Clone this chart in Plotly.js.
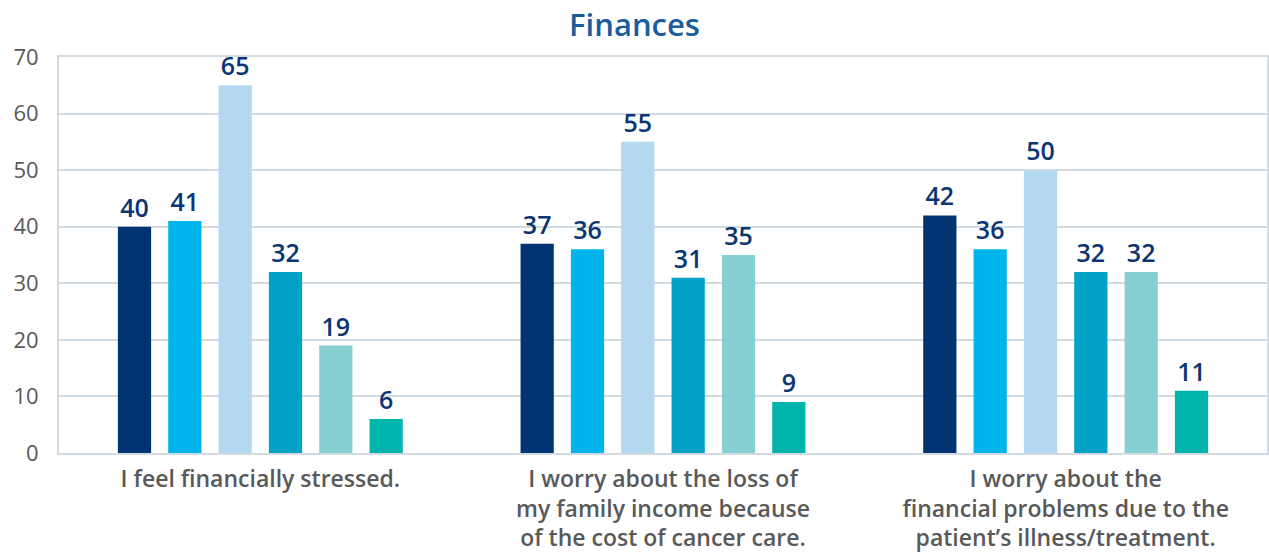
<!DOCTYPE html>
<html><head><meta charset="utf-8">
<script src="https://cdn.plot.ly/plotly-3.0.1.min.js"></script>
<style>html,body{margin:0;padding:0;background:#fff;}#chart{width:1269px;height:553px;}</style>
</head><body><div id="chart"></div>
<script>
const categories = ["I feel financially stressed.", "I worry about the loss of<br>my family income because<br>of the cost of cancer care.", "I worry about the<br>financial problems due to the<br>patient’s illness/treatment."];
const series1 = [40, 37, 42];
const series2 = [41, 36, 36];
const series3 = [65, 55, 50];
const series4 = [32, 31, 32];
const series5 = [19, 35, 32];
const series6 = [6, 9, 11];
const seriesValues = [series1, series2, series3, series4, series5, series6];
const colors = ["#003473", "#00b5ec", "#b3d8ef", "#00a3c7", "#86d0d3", "#00b4ab"];
const yTicks = [0, 10, 20, 30, 40, 50, 60, 70];
const F = "'Open Sans', Lato, sans-serif";

const traces = seriesValues.map((vals, i) => ({
  type: "bar",
  x: categories,
  y: vals,
  marker: {color: colors[i]},
  text: vals.map(String),
  textposition: "outside",
  cliponaxis: false,
  textfont: {family: F, size: 25, color: "#0b3672", weight: 600},
  hoverinfo: "none",
  showlegend: false
}));

Plotly.newPlot("chart", traces, {
  width: 1269, height: 553,
  margin: {l: 59, r: 2, t: 57, b: 100},
  barmode: "group",
  bargap: 0.25,
  bargroupgap: 0.34,
  paper_bgcolor: "#fff",
  plot_bgcolor: "#fff",
  title: {text: "Finances", x: 0.5, xanchor: "center", y: 0.955, yanchor: "middle",
    font: {family: F, size: 31, color: "#1a5c9e", weight: 600}},
  xaxis: {
    showline: true, linecolor: "#d3dbe2", linewidth: 2, mirror: true,
    tickfont: {family: F, size: 23, color: "#595959", weight: 600},
    ticks: "", ticklabelstandoff: 4, automargin: false
  },
  yaxis: {
    range: [0, 70], tickvals: yTicks, ticktext: yTicks.map(String),
    showgrid: true, gridcolor: "#d3dbe2", gridwidth: 2,
    showline: true, linecolor: "#d3dbe2", linewidth: 2, mirror: true,
    zeroline: false,
    tickfont: {family: F, size: 22, color: "#595959"},
    ticks: "outside", ticklen: 14, tickcolor: "rgba(0,0,0,0)", automargin: false
  },
  font: {family: F}
}, {displayModeBar: false, staticPlot: true});
</script></body></html>
